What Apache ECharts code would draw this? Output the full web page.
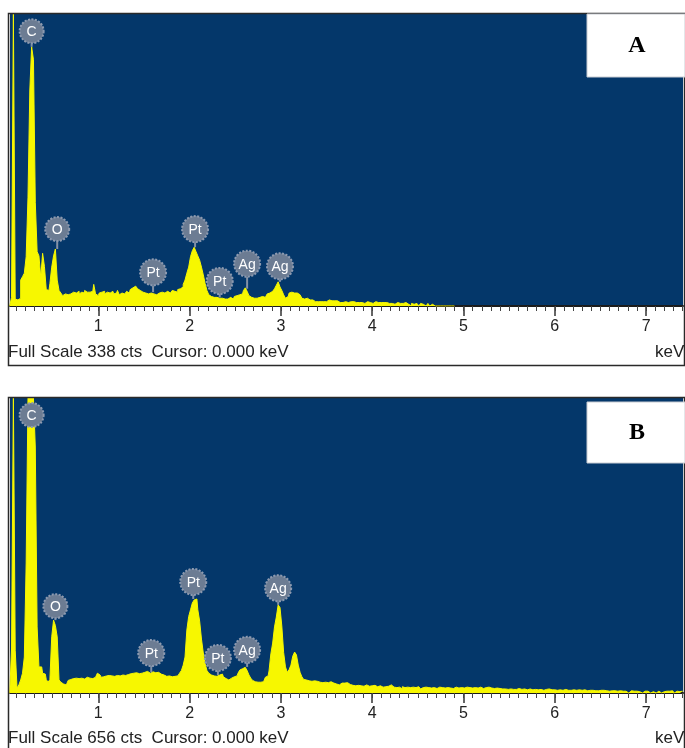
<!DOCTYPE html>
<html>
<head>
<meta charset="utf-8">
<title>EDS spectra A / B</title>
<script src="https://cdn.jsdelivr.net/npm/echarts@6/dist/echarts.min.js"></script>
<style>
  html, body { margin: 0; padding: 0; background: #fff; }
  #chart { width: 685px; height: 748px; }
</style>
</head>
<body>
<div id="chart"></div>
<script>
// keV per channel, both spectra start at 0 keV
const channelKeV = 0.02

// panel A, counts per channel (10 channels = 0.2 keV per row)
const countsA = [
  0, 0, 0, 10, 338, 8, 7, 9, 30, 34,
  38, 57, 126, 250, 300, 285, 120, 63, 58, 33,
  61, 46, 19, 18, 26, 45, 58, 66, 30, 18,
  15, 12, 14, 13, 15, 14, 16, 14, 15, 17,
  14, 16, 15, 18, 16, 16, 15, 17, 25, 14,
  12, 15, 16, 17, 14, 16, 15, 13, 17, 14,
  15, 18, 13, 15, 14, 16, 17, 15, 19, 21,
  23, 22, 20, 18, 16, 17, 15, 14, 13, 15,
  14, 16, 13, 15, 14, 16, 15, 14, 17, 15,
  16, 18, 17, 16, 19, 20, 22, 25, 30, 38,
  45, 57, 64, 68, 63, 58, 53, 45, 36, 26,
  18, 13, 11, 10, 9, 10, 9, 11, 9, 8,
  9, 8, 10, 9, 8, 11, 12, 13, 12, 14,
  18, 21, 17, 12, 10, 9, 8, 9, 10, 9,
  11, 10, 12, 14, 15, 17, 19, 20, 24, 28,
  22, 18, 13, 9, 11, 15, 16, 15, 14, 15,
  13, 12, 9, 8, 9, 8, 7, 7, 6, 5,
  5, 6, 5, 5, 6, 5, 7, 7, 6, 6,
  8, 6, 4, 5, 4, 5, 5, 4, 5, 4,
  5, 4, 3, 4, 4, 4, 3, 5, 4, 4,
  3, 4, 5, 4, 3, 4, 4, 5, 4, 3,
  4, 3, 2, 3, 4, 3, 2, 3, 4, 3,
  2, 0, 3, 2, 3, 2, 0, 3, 2, 0,
  2, 3, 0, 2, 0, 2, 0, 0, 2, 0,
  0, 2, 0, 0, 2, 0
]

// panel B, counts per channel
const countsB = [
  0, 0, 0, 100, 656, 95, 11, 18, 29, 44,
  80, 289, 656, 656, 656, 656, 547, 147, 58, 58,
  44, 42, 30, 24, 30, 125, 162, 150, 125, 29,
  24, 20, 18, 22, 28, 30, 32, 31, 33, 32,
  34, 33, 31, 33, 35, 33, 34, 32, 35, 38,
  44, 40, 35, 36, 38, 37, 39, 38, 40, 37,
  39, 41, 38, 40, 42, 39, 41, 40, 43, 44,
  42, 45, 43, 47, 44, 46, 45, 48, 44, 46,
  47, 45, 43, 46, 42, 38, 40, 37, 36, 38,
  36, 35, 37, 38, 40, 44, 50, 62, 80, 140,
  170, 185, 200, 207, 209, 185, 160, 120, 89, 65,
  50, 44, 40, 38, 36, 37, 40, 44, 42, 36,
  32, 29, 30, 33, 36, 35, 38, 44, 51, 54,
  57, 58, 50, 40, 33, 28, 25, 24, 26, 24,
  25, 28, 35, 38, 49, 87, 111, 147, 169, 196,
  190, 149, 90, 58, 46, 52, 62, 82, 91, 85,
  62, 46, 36, 30, 29, 27, 28, 26, 27, 25,
  26, 24, 25, 23, 24, 22, 23, 25, 24, 22,
  20, 19, 18, 22, 24, 22, 23, 21, 19, 17,
  18, 16, 17, 19, 16, 15, 16, 18, 15, 14,
  16, 17, 15, 14, 16, 15, 13, 14, 16, 15,
  18, 14, 13, 12, 14, 13, 9, 14, 12, 13,
  10, 12, 13, 11, 12, 14, 11, 9, 12, 13,
  10, 12, 11, 14, 12, 10, 11, 13, 12, 10,
  11, 12, 14, 11, 10, 12, 13, 11, 10, 12,
  11, 9, 13, 12, 10, 11, 12, 9, 11, 13,
  12, 10, 12, 11, 13, 11, 12, 10, 11, 9,
  10, 9, 10, 9, 8, 10, 9, 8, 9, 8,
  10, 9, 8, 9, 8, 7, 9, 8, 7, 8,
  9, 7, 8, 7, 6, 8, 7, 9, 7, 6,
  7, 6, 8, 7, 6, 7, 8, 6, 7, 6,
  7, 5, 6, 7, 5, 6, 7, 6, 5, 6,
  7, 6, 5, 6, 5, 6, 5, 6, 5, 4,
  4, 5, 4, 5, 4, 4, 5, 4, 3, 4,
  0, 4, 5, 4, 0, 4, 3, 4, 0, 4,
  5, 4, 0, 4, 3, 0, 4, 4, 0, 4,
  3, 4, 0, 4, 5, 4, 0, 4, 3, 4,
  4
]

const fullScaleA = 338
const fullScaleB = 656

// peak tags: element, energy, height of the tag (cts), height of the peak tip (cts)
const tagNamesA = ['C', 'O', 'Pt', 'Pt', 'Pt', 'Ag', 'Ag']
const tagKeVA = [0.27, 0.55, 1.60, 2.06, 2.33, 2.63, 2.99]
const tagCtsA = [318, 89, 39, 89, 29, 49, 46]
const peakCtsA = [300, 66, 16, 68, 10, 20, 28]

const tagNamesB = ['C', 'O', 'Pt', 'Pt', 'Pt', 'Ag', 'Ag']
const tagKeVB = [0.27, 0.53, 1.58, 2.04, 2.31, 2.63, 2.97]
const tagCtsB = [618, 193, 89, 247, 78, 96, 233]
const peakCtsB = [656, 162, 46, 209, 40, 58, 196]

const tickKeV = [1, 2, 3, 4, 5, 6, 7]
const keVMin = 0.033
const keVMax = 7.404

var minorKeV = []
for (let k = 1; k <= 74; k++) minorKeV.push(k / 10)

const plotBlue = '#04376a'
const specYellow = '#f7f700'
const sansFont = '"Liberation Sans", Arial, sans-serif'

function spectrum(counts) {
  return counts.map((c, i) => [+(i * channelKeV).toFixed(2), c])
}

function tags(kev, tagCts, peakCts) {
  return kev.map((e, i) => [e, tagCts[i], peakCts[i]])
}

function tagRenderer(names) {
  return function (params, api) {
    const tag = api.coord([api.value(0), api.value(1)])
    const tip = api.coord([api.value(0), api.value(2)])
    const name = names[params.dataIndex]
    const r = name.length > 1 ? 13 : 12
    const children = []
    if (tip[1] > tag[1] + r) {
      children.push({
        type: 'line',
        shape: { x1: tag[0], y1: tag[1] + r, x2: tip[0], y2: tip[1] },
        style: { stroke: '#8391a6', lineWidth: 2 },
      })
    }
    children.push({
      type: 'circle',
      shape: { cx: tag[0], cy: tag[1], r: r },
      style: { fill: '#6c7c93', stroke: '#8d9ab0', lineWidth: 2, lineDash: [2, 1.5] },
    })
    children.push({
      type: 'text',
      x: tag[0],
      y: tag[1] + 1,
      style: {
        text: name,
        fill: '#ffffff',
        font: '14px ' + sansFont,
        align: 'center',
        verticalAlign: 'middle',
      },
    })
    return { type: 'group', children: children }
  }
}

function majorAxis(gridIndex) {
  return {
    type: 'value',
    gridIndex: gridIndex,
    position: 'bottom',
    min: keVMin,
    max: keVMax,
    axisLine: { show: true, lineStyle: { color: '#1b1b1b', width: 2 } },
    axisTick: { show: true, customValues: tickKeV, length: 10, lineStyle: { color: '#333', width: 1.5 } },
    axisLabel: {
      show: true,
      customValues: tickKeV,
      margin: 13,
      color: '#222',
      fontSize: 16,
      fontFamily: sansFont,
    },
    splitLine: { show: false },
  }
}

function minorAxis(gridIndex) {
  return {
    type: 'value',
    gridIndex: gridIndex,
    position: 'bottom',
    min: keVMin,
    max: keVMax,
    axisLine: { show: false },
    axisTick: { show: true, customValues: minorKeV, length: 5, lineStyle: { color: '#444', width: 1 } },
    axisLabel: { show: false },
    splitLine: { show: false },
  }
}

function countAxis(gridIndex, full) {
  return {
    type: 'value',
    gridIndex: gridIndex,
    min: 0,
    max: full,
    show: false,
  }
}

function footText(y, full) {
  return [
    {
      type: 'text',
      left: 8,
      top: y - 10,
      z: 100,
      style: {
        text: 'Full Scale ' + full + ' cts  Cursor: 0.000 keV',
        fill: '#222',
        font: '17px ' + sansFont,
      },
    },
    {
      type: 'text',
      left: 655,
      top: y - 10,
      z: 100,
      style: { text: 'keV', fill: '#222', font: '17px ' + sansFont },
    },
  ]
}

function panelBox(x, y, w, h, letter) {
  return [
    {
      type: 'rect',
      z: 100,
      shape: { x: x, y: y, width: w, height: h },
      style: { fill: '#ffffff', stroke: '#c8ccd2', lineWidth: 1 },
    },
    {
      type: 'text',
      z: 101,
      x: 637,
      y: y + h / 2,
      style: {
        text: letter,
        fill: '#000',
        font: 'bold 24px "Liberation Serif", "Times New Roman", serif',
        align: 'center',
        verticalAlign: 'middle',
      },
    },
  ]
}

var myChart = echarts.init(document.getElementById('chart'))

var option = {
  backgroundColor: '#ffffff',
  animation: false,
  grid: [
    { left: 10, top: 14, width: 673, height: 292, show: true, backgroundColor: plotBlue, borderWidth: 0 },
    { left: 10, top: 398, width: 673, height: 295, show: true, backgroundColor: plotBlue, borderWidth: 0 },
  ],
  xAxis: [majorAxis(0), minorAxis(0), majorAxis(1), minorAxis(1)],
  yAxis: [countAxis(0, fullScaleA), countAxis(1, fullScaleB)],
  series: [
    {
      type: 'line',
      xAxisIndex: 0,
      yAxisIndex: 0,
      step: 'middle',
      symbol: 'none',
      clip: true,
      lineStyle: { color: specYellow, width: 1 },
      areaStyle: { color: specYellow, opacity: 1 },
      data: spectrum(countsA),
    },
    {
      type: 'line',
      xAxisIndex: 2,
      yAxisIndex: 1,
      step: 'middle',
      symbol: 'none',
      clip: true,
      lineStyle: { color: specYellow, width: 1 },
      areaStyle: { color: specYellow, opacity: 1 },
      data: spectrum(countsB),
    },
    {
      type: 'custom',
      xAxisIndex: 0,
      yAxisIndex: 0,
      renderItem: tagRenderer(tagNamesA),
      data: tags(tagKeVA, tagCtsA, peakCtsA),
      z: 5,
    },
    {
      type: 'custom',
      xAxisIndex: 2,
      yAxisIndex: 1,
      renderItem: tagRenderer(tagNamesB),
      data: tags(tagKeVB, tagCtsB, peakCtsB),
      z: 5,
    },
  ],
  graphic: [
    // outer frames of both panels
    { type: 'rect', z: 90, shape: { x: 8.5, y: 13.5, width: 676, height: 352 }, style: { fill: null, stroke: '#2a2a2a', lineWidth: 1.5 } },
    { type: 'rect', z: 90, shape: { x: 8.5, y: 397.5, width: 676, height: 360 }, style: { fill: null, stroke: '#2a2a2a', lineWidth: 1.5 } },
  ]
    .concat(panelBox(587, 14, 98, 63, 'A'))
    .concat(panelBox(587, 402, 98, 61, 'B'))
    .concat(footText(354, fullScaleA))
    .concat(footText(740, fullScaleB)),
}

option && myChart.setOption(option)
</script>
</body>
</html>
